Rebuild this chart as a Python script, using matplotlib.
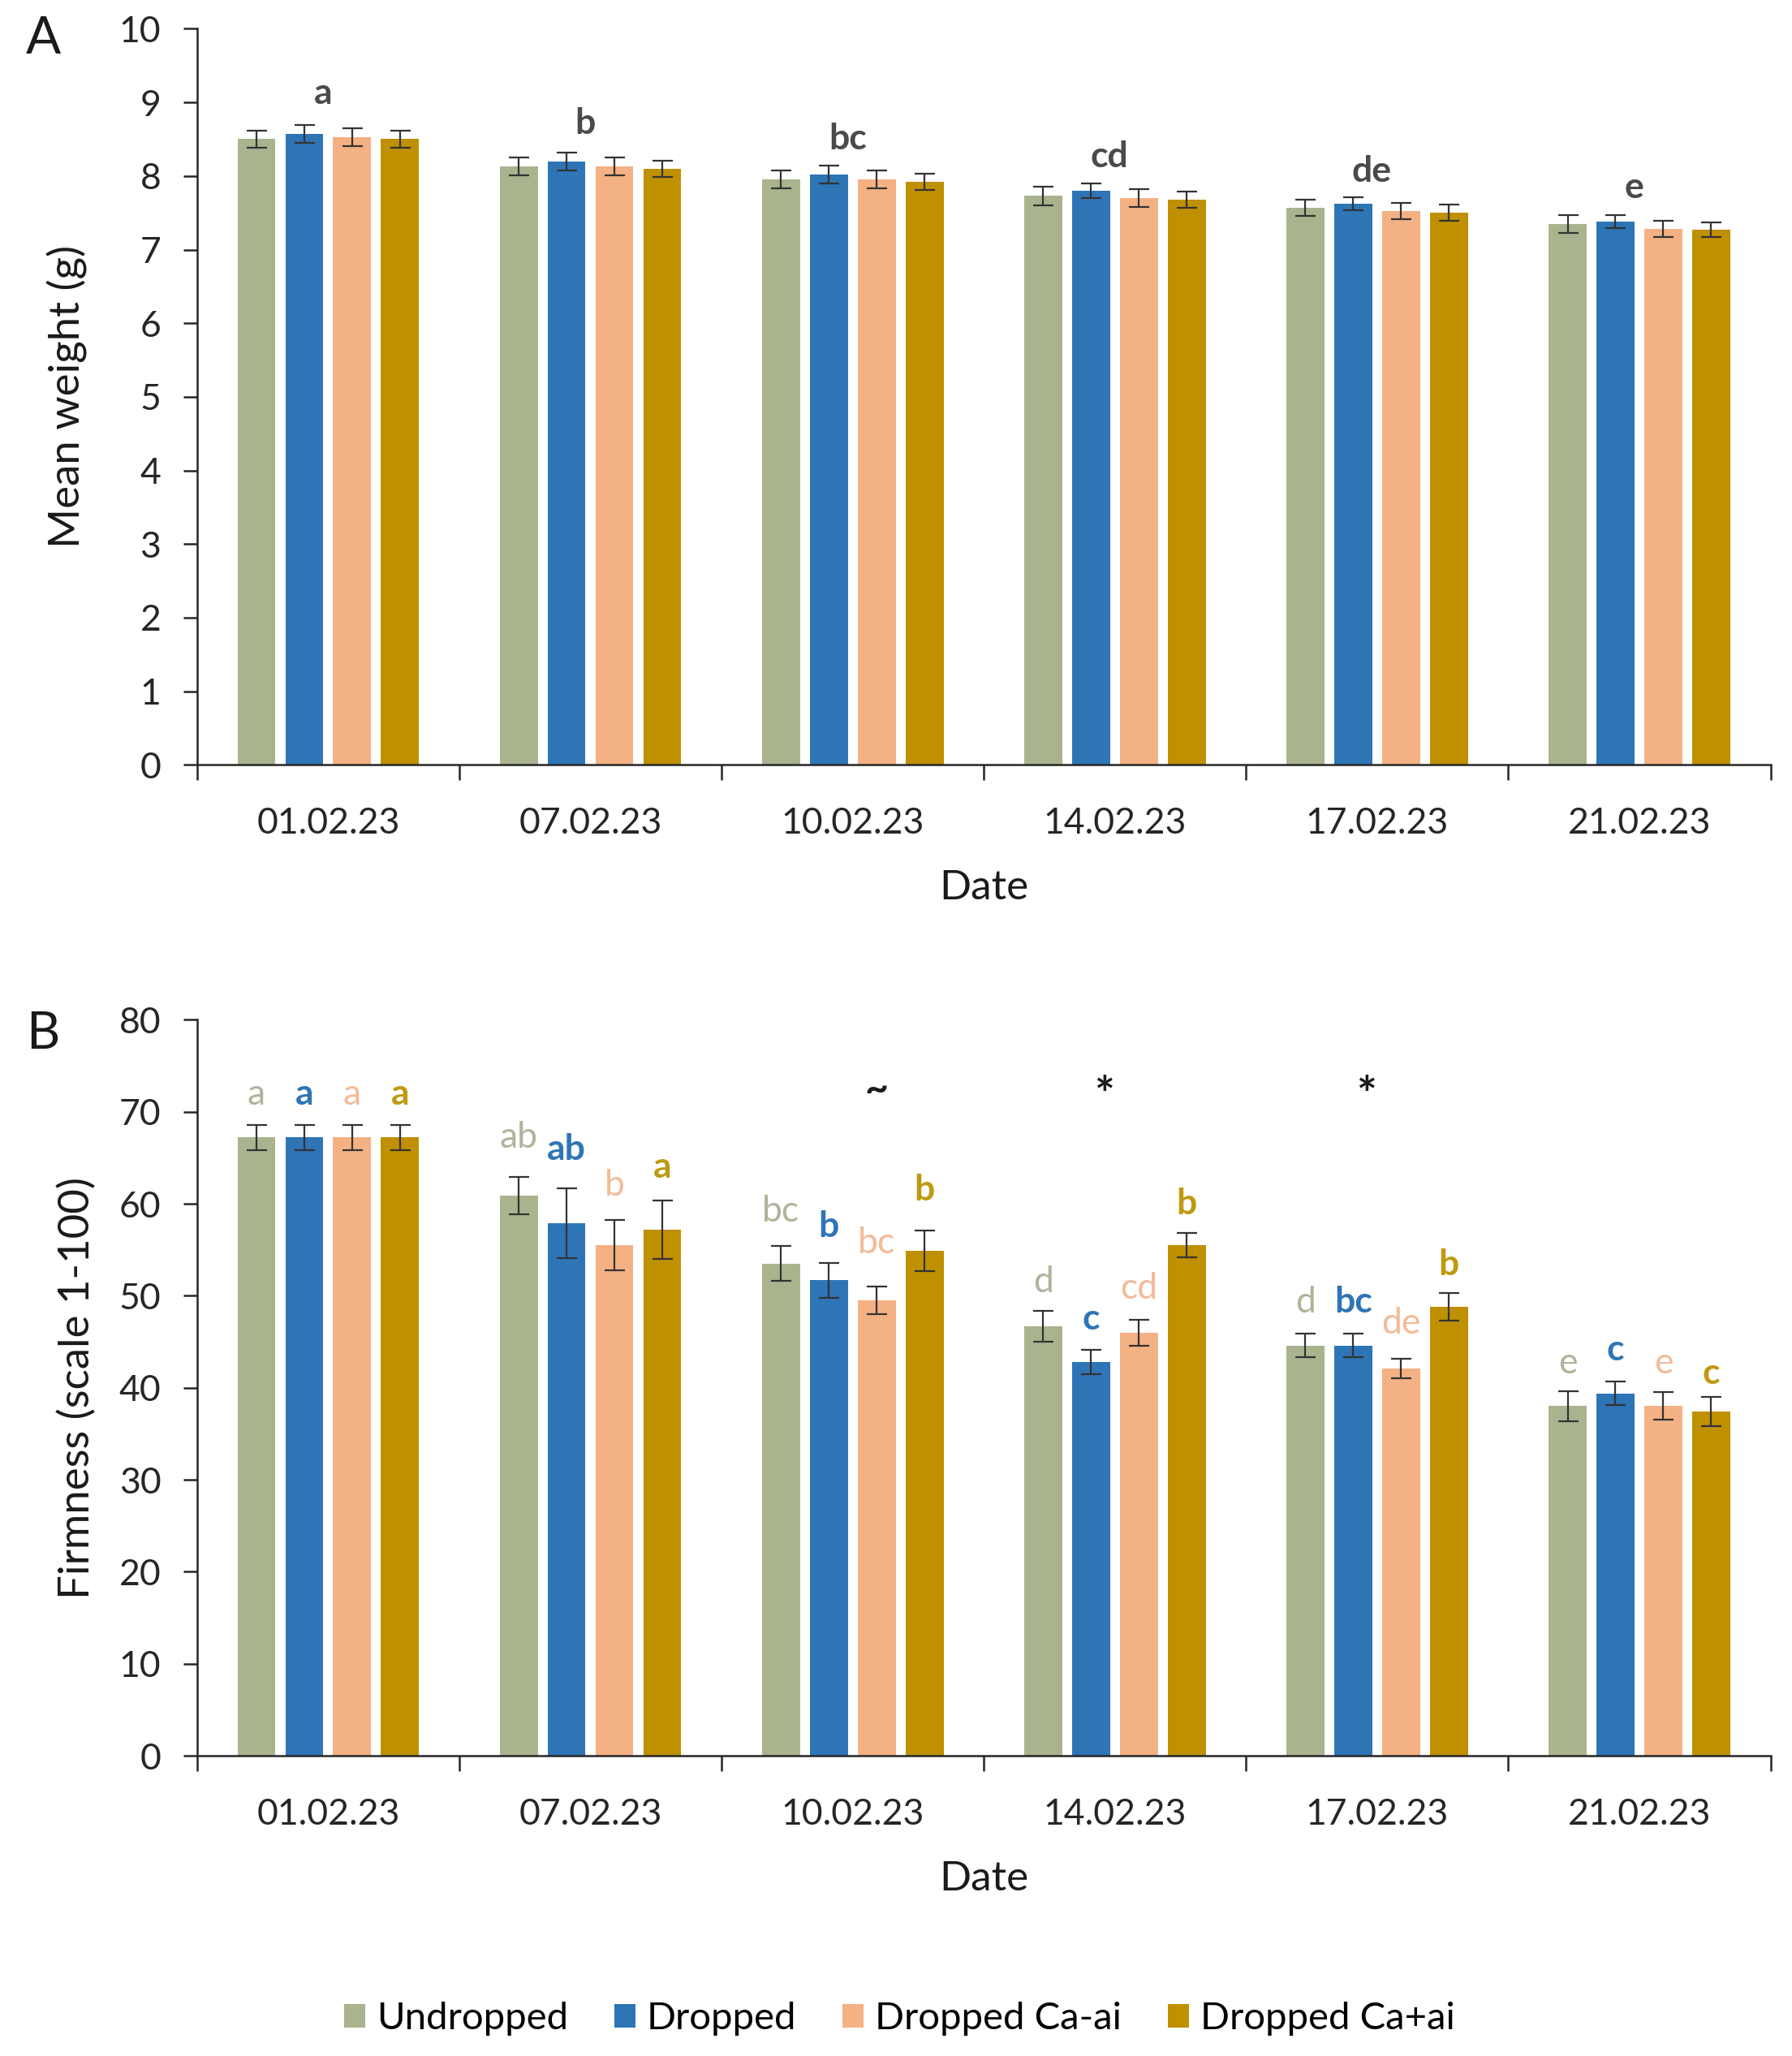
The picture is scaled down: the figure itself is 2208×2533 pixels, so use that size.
import numpy as np
import matplotlib
matplotlib.use("Agg")
import matplotlib.pyplot as plt

plt.rcParams['font.family'] = ['Lato', 'DejaVu Sans']

# === DATA ===
dates = ["01.02.23", "07.02.23", "10.02.23", "14.02.23", "17.02.23", "21.02.23"]
series = ["Undropped", "Dropped", "Dropped Ca-ai", "Dropped Ca+ai"]
colors = ["#a9b48f", "#2e75b6", "#f4b183", "#bf9000"]
letter_colors = ["#adb59a", "#2e75b6", "#f2bb98", "#bf9a10"]

# panel A: mean weight (g)
weight = {
    "Undropped":     [8.50, 8.13, 7.95, 7.73, 7.57, 7.35],
    "Dropped":       [8.57, 8.20, 8.02, 7.80, 7.62, 7.38],
    "Dropped Ca-ai": [8.53, 8.13, 7.95, 7.70, 7.52, 7.28],
    "Dropped Ca+ai": [8.50, 8.10, 7.92, 7.68, 7.50, 7.27],
}
weight_err = {
    "Undropped":     [0.12, 0.12, 0.12, 0.13, 0.11, 0.12],
    "Dropped":       [0.12, 0.12, 0.12, 0.10, 0.09, 0.09],
    "Dropped Ca-ai": [0.12, 0.12, 0.12, 0.12, 0.11, 0.11],
    "Dropped Ca+ai": [0.12, 0.11, 0.11, 0.11, 0.11, 0.10],
}
weight_letters = ["a", "b", "bc", "cd", "de", "e"]
weight_letter_y = [9.12, 8.72, 8.50, 8.26, 8.06, 7.84]

# panel B: firmness (scale 1-100)
firm = {
    "Undropped":     [67.2, 60.9, 53.5, 46.7, 44.6, 38.0],
    "Dropped":       [67.2, 57.9, 51.7, 42.8, 44.6, 39.4],
    "Dropped Ca-ai": [67.2, 55.5, 49.5, 46.0, 42.1, 38.0],
    "Dropped Ca+ai": [67.2, 57.2, 54.9, 55.5, 48.8, 37.4],
}
firm_err = {
    "Undropped":     [1.4, 2.0, 1.9, 1.7, 1.3, 1.6],
    "Dropped":       [1.4, 3.8, 1.9, 1.3, 1.3, 1.3],
    "Dropped Ca-ai": [1.4, 2.7, 1.5, 1.4, 1.1, 1.5],
    "Dropped Ca+ai": [1.4, 3.2, 2.2, 1.3, 1.5, 1.6],
}
firm_letters = {
    "Undropped":     ["a", "ab", "bc", "d", "d", "e"],
    "Dropped":       ["a", "ab", "b", "c", "bc", "c"],
    "Dropped Ca-ai": ["a", "b", "bc", "cd", "de", "e"],
    "Dropped Ca+ai": ["a", "a", "b", "b", "b", "c"],
}
firm_letter_y = {
    "Undropped":     [71.9, 67.2, 59.2, 51.5, 49.3, 42.7],
    "Dropped":       [71.9, 65.9, 57.5, 47.5, 49.3, 44.1],
    "Dropped Ca-ai": [71.9, 62.0, 55.7, 50.8, 47.0, 42.7],
    "Dropped Ca+ai": [71.9, 64.0, 61.5, 60.0, 53.4, 41.6],
}
firm_sig = ["", "", "~", "*", "*", ""]

# === PLOT ===
W, H = 2208, 2533
fig = plt.figure(figsize=(W / 100, H / 100), dpi=100)
axA = fig.add_axes([0.110, 0.628, 0.878, 0.358])
axB = fig.add_axes([0.110, 0.146, 0.878, 0.358])

x = np.arange(len(dates))
step = 0.1825
width = 0.145
offsets = (np.arange(len(series)) - 1.5) * step


def style_axis(ax, ymax, ystep):
    ax.set_xlim(-0.5, len(dates) - 0.5)
    ax.set_ylim(0, ymax)
    ax.set_yticks(np.arange(0, ymax + 0.1, ystep))
    ax.set_xticks(x)
    ax.set_xticklabels(dates)
    ax.set_xticks(np.arange(-0.5, len(dates)), minor=True)
    ax.tick_params(axis="x", which="major", length=0, pad=37, labelsize=32, colors="#262626")
    ax.tick_params(axis="x", which="minor", length=14, width=1.8, direction="out", color="#262626")
    ax.tick_params(axis="y", length=12, width=1.8, pad=20, labelsize=32, colors="#262626")
    for s in ["top", "right"]:
        ax.spines[s].set_visible(False)
    for s in ["left", "bottom"]:
        ax.spines[s].set_linewidth(1.8)
        ax.spines[s].set_color("#262626")
    ax.set_xlabel("Date", fontsize=37, labelpad=26, color="#1a1a1a")


bar_handles = []
for i, name in enumerate(series):
    b = axA.bar(x + offsets[i], weight[name], width, color=colors[i],
                yerr=weight_err[name], capsize=9,
                error_kw=dict(ecolor="#333333", elinewidth=1.6, capthick=1.6),
                label=name)
    bar_handles.append(b)
    axB.bar(x + offsets[i], firm[name], width, color=colors[i],
            yerr=firm_err[name], capsize=9,
            error_kw=dict(ecolor="#333333", elinewidth=1.6, capthick=1.6))

style_axis(axA, 10, 1)
style_axis(axB, 80, 10)
axA.set_ylabel("Mean weight (g)", fontsize=38, labelpad=28, color="#1a1a1a")
axB.set_ylabel("Firmness (scale 1-100)", fontsize=38, labelpad=20, color="#1a1a1a")

for j, lt in enumerate(weight_letters):
    axA.text(x[j] - 0.02, weight_letter_y[j], lt, ha="center", va="center",
             fontsize=32, fontweight="bold", color="#4a4a4a")

for i, name in enumerate(series):
    for j in range(len(dates)):
        axB.text(x[j] + offsets[i], firm_letter_y[name][j], firm_letters[name][j],
                 ha="center", va="center", fontsize=32,
                 fontweight="bold" if i in (1, 3) else "normal",
                 color=letter_colors[i])

for j, s in enumerate(firm_sig):
    if s:
        axB.text(x[j] + (0.09 if s == "~" else -0.04), 71.6 if s == "*" else 72.4, s,
                 ha="center", va="center", fontsize=42 if s == "*" else 36,
                 fontweight="bold", color="#1a1a1a")

fig.text(0.024, 0.981, "A", fontsize=46, ha="center", va="center", color="#1a1a1a")
fig.text(0.024, 0.497, "B", fontsize=46, ha="center", va="center", color="#1a1a1a")

fig.legend(handles=bar_handles, labels=series, loc="center", bbox_to_anchor=(0.502, 0.018),
           ncol=4, frameon=False, fontsize=34, handlelength=0.55, handleheight=0.55,
           handletextpad=0.3, columnspacing=1.2)

fig.savefig("out.png", dpi=100, facecolor="white")
